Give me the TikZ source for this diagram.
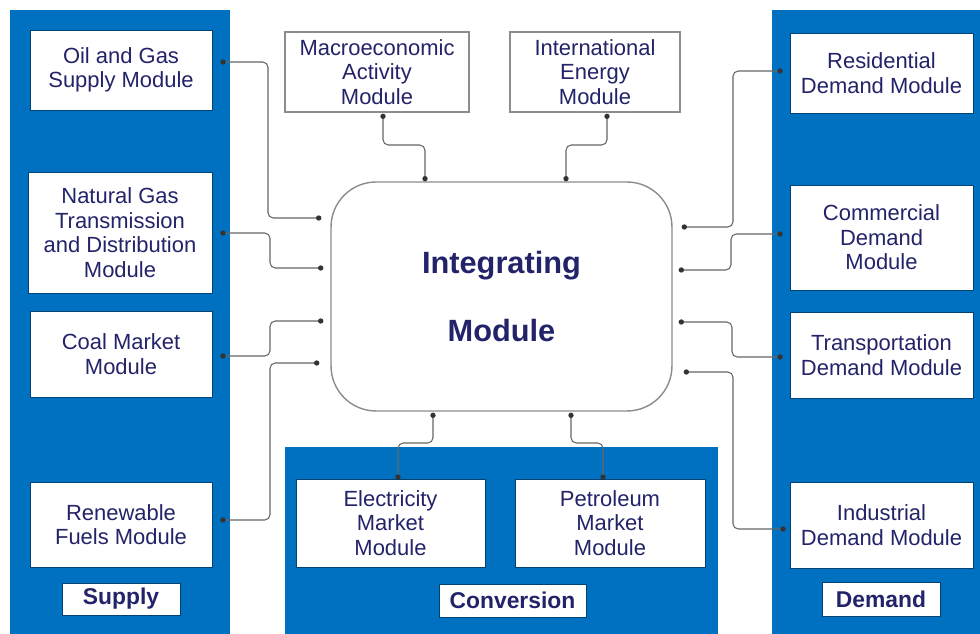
\documentclass[tikz,border=0pt]{standalone}
\usepackage{fontspec}
\setmainfont{Liberation Sans}
\usetikzlibrary{arrows.meta}

\definecolor{panelblue}{RGB}{0,112,192}
\definecolor{navy}{RGB}{35,35,105}

\begin{document}
\begin{tikzpicture}[x=0.02cm,y=-0.02cm]
  \tikzset{module/.style = {shape=rectangle,fill=white,draw=panelblue!60!black,line width=0.4pt,text=navy,align=center,inner sep=1pt,font=\fontsize{12.5}{14}\selectfont}}
  \tikzset{outer/.style = {module,draw=black!45,line width=0.8pt}}
  \tikzset{tag/.style = {module,font=\fontsize{13}{15}\selectfont\bfseries}}
  \tikzset{link/.style = {{Circle[length=3pt,color=black!80]}-{Circle[length=3pt,color=black!80]},draw=black!60,line width=0.6pt,rounded corners=3pt}}

  \useasboundingbox (0,0) rectangle (980,634);
  \fill[white] (0,0) rectangle (980,634);

  % blue panels
  \fill[panelblue] (10,10) rectangle (230,634);
  \fill[panelblue] (772,10) rectangle (980,634);
  \fill[panelblue] (285,447) rectangle (718,634);

  % supply
  \node[module,minimum width=3.64cm,minimum height=1.6cm] (oil) at (121,70) {Oil and Gas\\Supply Module};
  \node[module,minimum width=3.68cm,minimum height=2.42cm] (natgas) at (120,232.5) {Natural Gas\\Transmission\\and Distribution\\Module};
  \node[module,minimum width=3.64cm,minimum height=1.72cm] (coal) at (121,354) {Coal Market\\Module};
  \node[module,minimum width=3.64cm,minimum height=1.7cm] (renew) at (121,524.5) {Renewable\\Fuels Module};
  \node[tag,minimum width=2.36cm,minimum height=0.64cm] (supply) at (121,599) {Supply};

  % demand
  \node[module,minimum width=3.66cm,minimum height=1.6cm] (resid) at (881.5,73) {Residential\\Demand Module};
  \node[module,minimum width=3.66cm,minimum height=2.1cm] (comm) at (881.5,237.5) {Commercial\\Demand\\Module};
  \node[module,minimum width=3.66cm,minimum height=1.72cm] (trans) at (881.5,355) {Transportation\\Demand Module};
  \node[module,minimum width=3.66cm,minimum height=1.72cm] (indus) at (881.5,525) {Industrial\\Demand Module};
  \node[tag,minimum width=2.36cm,minimum height=0.68cm] (demand) at (881,599.5) {Demand};

  % top and conversion
  \node[outer,minimum width=3.68cm,minimum height=1.6cm] (macro) at (377,72) {Macroeconomic\\Activity\\Module};
  \node[outer,minimum width=3.4cm,minimum height=1.6cm] (intl) at (595,72) {International\\Energy\\Module};
  \node[module,minimum width=3.78cm,minimum height=1.76cm] (elec) at (390.5,523) {Electricity\\Market\\Module};
  \node[module,minimum width=3.8cm,minimum height=1.76cm] (petro) at (610,523) {Petroleum\\Market\\Module};
  \node[tag,minimum width=2.94cm,minimum height=0.66cm] (conv) at (512.5,600.5) {Conversion};

  \node[outer,rounded corners=0.9cm,minimum width=6.82cm,minimum height=4.58cm,font=\fontsize{17.5}{38.5}\selectfont\bfseries] (integ) at (501.5,296.5) {Integrating\\Module};

  % links
  \draw[link] ([shift={(8,-8)}]oil.east) -| (268,218) -- ([shift={(-9,-78.5)}]integ.west);
  \draw[link] ([shift={(8,0.5)}]natgas.east) -| (270,268) -- ([shift={(-7,-28.5)}]integ.west);
  \draw[link] ([shift={(8,2)}]coal.east) -| (270,321) -- ([shift={(-7,24.5)}]integ.west);
  \draw[link] ([shift={(8,-4.5)}]renew.east) -| (270,363) -- ([shift={(-11,66.5)}]integ.west);

  \draw[link] ([shift={(-7,-2)}]resid.west) -| (733,227) -- ([shift={(9,-69.5)}]integ.east);
  \draw[link] ([shift={(-7,-3.5)}]comm.west) -| (731,270) -- ([shift={(6,-26.5)}]integ.east);
  \draw[link] ([shift={(-7,2)}]trans.west) -| (732,322) -- ([shift={(6,25.5)}]integ.east);
  \draw[link] ([shift={(-4,4)}]indus.west) -| (733,372) -- ([shift={(11,75.5)}]integ.east);

  \draw[link] ([shift={(6,1)}]macro.south) |- (425,145) -- ([shift={(-76.5,0)}]integ.north);
  \draw[link] ([shift={(12,1)}]intl.south) |- (566,145) -- ([shift={(64.5,0)}]integ.north);
  \draw[link] ([shift={(7.5,1)}]elec.north) |- (433,443) -- ([shift={(-68.5,1)}]integ.south);
  \draw[link] ([shift={(-7,1)}]petro.north) |- (571,443) -- ([shift={(69.5,1)}]integ.south);
\end{tikzpicture}
\end{document}
